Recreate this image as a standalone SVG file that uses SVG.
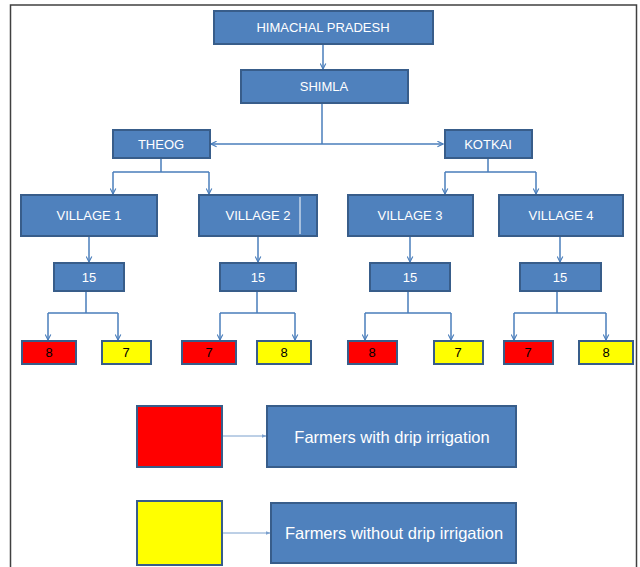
<svg xmlns="http://www.w3.org/2000/svg" width="640" height="567" viewBox="0 0 640 567">
<style>
.b{fill:#4F81BD;stroke:#385D8A;stroke-width:2}
.r{fill:#FF0000;stroke:#385D8A;stroke-width:2}
.y{fill:#FFFF00;stroke:#385D8A;stroke-width:2}
.t{font-family:"Liberation Sans",Arial,sans-serif;font-size:13px;fill:#FFFFFF;text-anchor:middle;dominant-baseline:central}
.g{font-family:"Liberation Sans",Arial,sans-serif;font-size:16.5px;fill:#FFFFFF;text-anchor:middle;dominant-baseline:central}
.k{font-family:"Liberation Sans",Arial,sans-serif;font-size:13px;fill:#000000;text-anchor:middle;dominant-baseline:central}
.c{fill:none;stroke:#4A7EBB;stroke-width:1.5}
.l{fill:none;stroke:#7BA0CD;stroke-width:1}
</style>
<defs>
<marker id="a" viewBox="0 0 10 10" refX="9" refY="5" markerWidth="7" markerHeight="7" orient="auto-start-reverse" markerUnits="userSpaceOnUse">
<path d="M1,1 L9,5 L1,9" fill="none" stroke="#4A7EBB" stroke-width="1.6"/>
</marker>
<marker id="s" viewBox="0 0 10 10" refX="9" refY="5" markerWidth="5" markerHeight="5" orient="auto" markerUnits="userSpaceOnUse">
<path d="M0,1 L10,5 L0,9 Z" fill="#7BA0CD"/>
</marker>
</defs>
<rect x="10.5" y="5" width="626" height="570" fill="#FFFFFF" stroke="#404040" stroke-width="1.5"/>
<g id="connectors">
<path class="c" d="M323,44 V69" marker-end="url(#a)"/>
<path class="c" d="M322,103 V144"/>
<path class="c" d="M211,144 H443" marker-start="url(#a)" marker-end="url(#a)"/>
<path class="c" d="M161,158 V172 M113,172 H209"/>
<path class="c" d="M113,172 V194" marker-end="url(#a)"/>
<path class="c" d="M209,172 V194" marker-end="url(#a)"/>
<path class="c" d="M488,158 V172 M445,172 H536"/>
<path class="c" d="M445,172 V194" marker-end="url(#a)"/>
<path class="c" d="M536,172 V194" marker-end="url(#a)"/>
<path class="c" d="M89,236 V262" marker-end="url(#a)"/>
<path class="c" d="M258,236 V262" marker-end="url(#a)"/>
<path class="c" d="M410,236 V262" marker-end="url(#a)"/>
<path class="c" d="M560,236 V262" marker-end="url(#a)"/>
<path class="c" d="M86,291 V313 M48,313 H118"/>
<path class="c" d="M48,313 V340" marker-end="url(#a)"/>
<path class="c" d="M118,313 V340" marker-end="url(#a)"/>
<path class="c" d="M257,291 V313 M220,313 H295"/>
<path class="c" d="M220,313 V340" marker-end="url(#a)"/>
<path class="c" d="M295,313 V340" marker-end="url(#a)"/>
<path class="c" d="M408,291 V313 M365,313 H451"/>
<path class="c" d="M365,313 V340" marker-end="url(#a)"/>
<path class="c" d="M451,313 V340" marker-end="url(#a)"/>
<path class="c" d="M557,291 V313 M514,313 H606"/>
<path class="c" d="M514,313 V340" marker-end="url(#a)"/>
<path class="c" d="M606,313 V340" marker-end="url(#a)"/>
<path class="l" d="M223,436 H266" marker-end="url(#s)"/>
<path class="l" d="M223,533 H270" marker-end="url(#s)"/>
</g>
<g id="himachal"><rect class="b" x="214" y="11" width="219" height="33"/><text class="t" x="323" y="27.5">HIMACHAL PRADESH</text></g>
<g id="shimla"><rect class="b" x="241" y="70" width="167" height="33"/><text class="t" x="324" y="86.5">SHIMLA</text></g>
<g id="theog"><rect class="b" x="113" y="130" width="97" height="28"/><text class="t" x="161" y="144">THEOG</text></g>
<g id="kotkai"><rect class="b" x="445" y="130" width="87" height="28"/><text class="t" x="488" y="144">KOTKAI</text></g>
<g id="village1"><rect class="b" x="21" y="195" width="136" height="41"/><text class="t" x="89" y="215.5">VILLAGE 1</text></g>
<g id="village2"><rect class="b" x="199" y="195" width="118" height="41"/><line x1="300" y1="197" x2="300" y2="234" stroke="#FFFFFF" stroke-width="1"/><text class="t" x="258" y="215.5">VILLAGE 2</text></g>
<g id="village3"><rect class="b" x="348" y="195" width="125" height="41"/><text class="t" x="410" y="215.5">VILLAGE 3</text></g>
<g id="village4"><rect class="b" x="499" y="195" width="124" height="41"/><text class="t" x="561" y="215.5">VILLAGE 4</text></g>
<g id="n15a"><rect class="b" x="54" y="263" width="70" height="28"/><text class="t" x="89" y="277">15</text></g>
<g id="n15b"><rect class="b" x="220" y="263" width="76" height="28"/><text class="t" x="258" y="277">15</text></g>
<g id="n15c"><rect class="b" x="370" y="263" width="80" height="28"/><text class="t" x="410" y="277">15</text></g>
<g id="n15d"><rect class="b" x="520" y="263" width="81" height="28"/><text class="t" x="560" y="277">15</text></g>
<g id="r1"><rect class="r" x="22" y="341" width="54" height="23"/><text class="k" x="49" y="352.5">8</text></g>
<g id="y1"><rect class="y" x="102" y="341" width="49" height="23"/><text class="k" x="126" y="352.5">7</text></g>
<g id="r2"><rect class="r" x="182" y="341" width="54" height="23"/><text class="k" x="209" y="352.5">7</text></g>
<g id="y2"><rect class="y" x="257" y="341" width="54" height="23"/><text class="k" x="284" y="352.5">8</text></g>
<g id="r3"><rect class="r" x="348" y="341" width="49" height="23"/><text class="k" x="372" y="352.5">8</text></g>
<g id="y3"><rect class="y" x="434" y="341" width="49" height="23"/><text class="k" x="458" y="352.5">7</text></g>
<g id="r4"><rect class="r" x="504" y="341" width="49" height="23"/><text class="k" x="528" y="352.5">7</text></g>
<g id="y4"><rect class="y" x="579" y="341" width="54" height="23"/><text class="k" x="606" y="352.5">8</text></g>
<g id="legend-red"><rect class="r" x="137" y="406" width="85" height="61"/></g>
<g id="legend-with"><rect class="b" x="267" y="406" width="249" height="61"/><text class="g" x="392" y="436.5">Farmers with drip irrigation</text></g>
<g id="legend-yellow"><rect class="y" x="137" y="501" width="85" height="64"/></g>
<g id="legend-without"><rect class="b" x="271" y="503" width="245" height="60"/><text class="g" x="394" y="533">Farmers without drip irrigation</text></g>
</svg>
